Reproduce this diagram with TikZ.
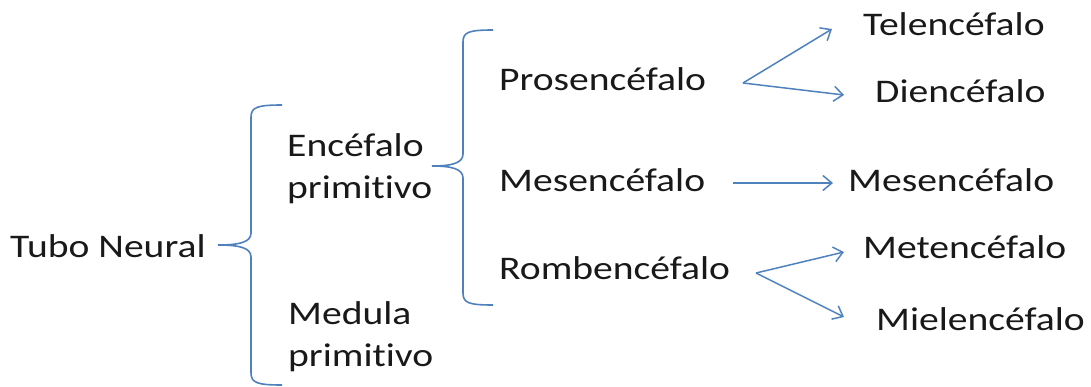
\documentclass[tikz,border=0pt]{standalone}
\usepackage{fontspec}
\setmainfont{Carlito}[FakeStretch=1.2, Ligatures=NoCommon]
\usetikzlibrary{arrows.meta}
\definecolor{lineblue}{RGB}{79,129,189}
\tikzset{
  lbl/.style={anchor=base west, inner sep=0pt, font=\fontsize{33}{42}\selectfont, text=black!90, align=left},
  brace/.style={draw=lineblue, line width=1.6pt},
  arr/.style={draw=lineblue, line width=1.5pt, -{Straight Barb[length=9pt,width=15pt,line width=1.5pt]}}
}
\begin{document}
\begin{tikzpicture}[x=1pt,y=-1pt]
\useasboundingbox (0,0) rectangle (1091,386);
% labels (multi-line nodes: base = last line)
\node[lbl] (tubo) at (10,257) {Tubo Neural};
\node[lbl] (encef) at (287,198) {Encéfalo\\primitivo};
\node[lbl] (medula) at (288,366) {Medula\\primitivo};
\node[lbl] (pros) at (499,90) {Prosencéfalo};
\node[lbl] (mesA) at (499,191) {Mesencéfalo};
\node[lbl] (romb) at (499,279) {Rombencéfalo};
\node[lbl] (tel) at (863,35) {Telencéfalo};
\node[lbl] (dien) at (875,102) {Diencéfalo};
\node[lbl] (mesB) at (848,191) {Mesencéfalo};
\node[lbl] (met) at (863,258) {Metencéfalo};
\node[lbl] (miel) at (876,330) {Mielencéfalo};
% braces
\draw[brace] (282,105) .. controls (258,105) and (251,107) .. (251,117) -- (251,233)
  .. controls (251,242) and (240,245) .. (218,245)
  .. controls (240,245) and (251,248) .. (251,257) -- (251,373)
  .. controls (251,383) and (258,385) .. (282,385);
\draw[brace] (493,30) .. controls (469,30) and (463,32) .. (463,42) -- (463,154)
  .. controls (463,163) and (452,166) .. (432,166)
  .. controls (452,166) and (463,169) .. (463,178) -- (463,293)
  .. controls (463,303) and (469,305) .. (493,305);
% arrows
\coordinate (prosOut) at (743,83);
\coordinate (telIn) at (832,29);
\coordinate (dienIn) at (844,95);
\coordinate (mesOut) at (733,183);
\coordinate (mesIn) at (833,183);
\coordinate (rombOut) at (756,273);
\coordinate (metIn) at (844,252);
\coordinate (mielIn) at (844,317);
\draw[arr] (prosOut) -- (telIn);
\draw[arr] (prosOut) -- (dienIn);
\draw[arr] (mesOut) -- (mesIn);
\draw[arr] (rombOut) -- (metIn);
\draw[arr] (rombOut) -- (mielIn);
\end{tikzpicture}
\end{document}
